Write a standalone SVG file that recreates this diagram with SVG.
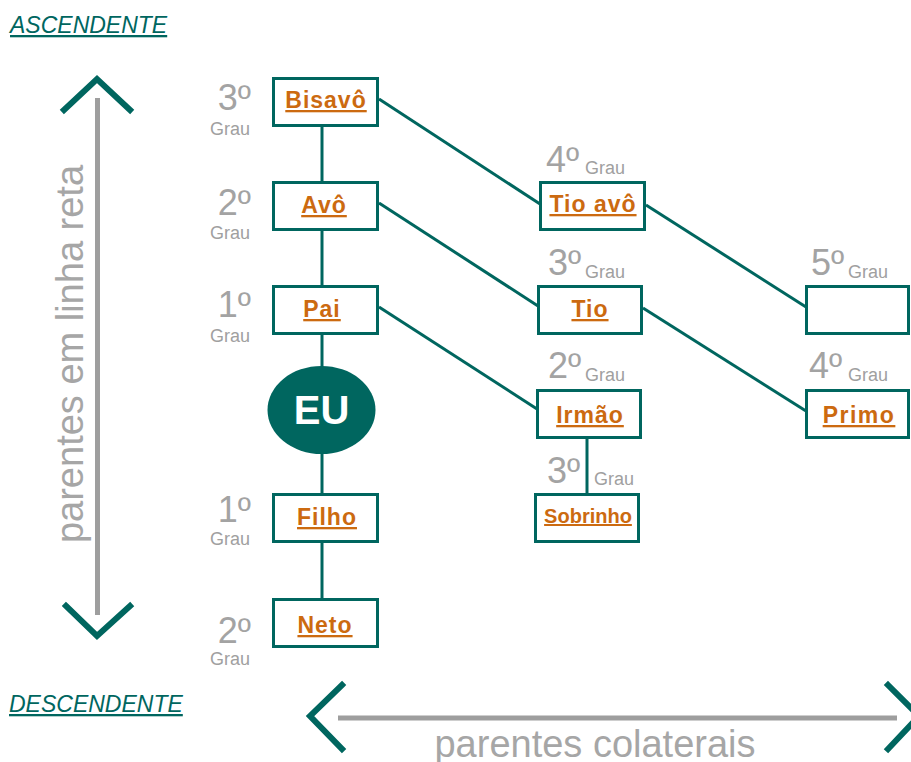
<svg xmlns="http://www.w3.org/2000/svg" width="911" height="762" viewBox="0 0 911 762">
<style>
.box{fill:#fff;stroke:#00665f;stroke-width:3}
.lnk{stroke:#00665f;stroke-width:3;fill:none}
.lbl{font-family:"Liberation Sans",Arial,sans-serif;font-weight:bold;font-size:23px;fill:#cc6a10;text-anchor:middle;text-decoration:underline;letter-spacing:1px}
.deg{font-family:"Liberation Sans",Arial,sans-serif;font-size:36px;fill:#a3a3a3}
.grau{font-family:"Liberation Sans",Arial,sans-serif;font-size:18px;fill:#a0a0a0}
.end{text-anchor:end}
.side{font-family:"Liberation Sans",Arial,sans-serif;font-style:italic;font-size:23px;fill:#00665f;text-decoration:underline}
.big{font-family:"Liberation Sans",Arial,sans-serif;font-size:38px;fill:#a6a6a6;text-anchor:middle}
.gline{stroke:#9e9e9e;stroke-width:5;fill:none}
.chev{stroke:#00665f;stroke-width:6;fill:none;stroke-linecap:square}
</style>
<rect width="911" height="762" fill="#fff"/>

<g id="headers">
<text class="side" x="10" y="33">ASCENDENTE</text>
<text class="side" x="9" y="712">DESCENDENTE</text>
</g>

<g id="axis-vertical">
<line class="gline" x1="97.5" y1="98" x2="97.5" y2="615"/>
<polyline class="chev" points="64,110 97,79 130,110"/>
<polyline class="chev" points="66,606 97,636 130,606"/>
<text class="big" transform="translate(83,354) rotate(-90)">parentes em linha reta</text>
</g>

<g id="axis-horizontal">
<line class="gline" x1="338" y1="718" x2="897" y2="718"/>
<polyline class="chev" points="342,685 310,716 342,749"/>
<polyline class="chev" points="888,685 919,716 888,749"/>
<text class="big" x="595" y="757">parentes colaterais</text>
</g>

<g id="connectors">
<line class="lnk" x1="322" y1="127" x2="322" y2="181"/>
<line class="lnk" x1="322" y1="231" x2="322" y2="285"/>
<line class="lnk" x1="322" y1="334" x2="322" y2="368"/>
<line class="lnk" x1="322" y1="452" x2="322" y2="493"/>
<line class="lnk" x1="322" y1="543" x2="322" y2="598"/>
<line class="lnk" x1="587" y1="438" x2="587" y2="493"/>
<line class="lnk" x1="379" y1="99" x2="540" y2="204"/>
<line class="lnk" x1="379" y1="203" x2="538" y2="306"/>
<line class="lnk" x1="379" y1="307" x2="537" y2="409"/>
<line class="lnk" x1="646" y1="205" x2="806" y2="307"/>
<line class="lnk" x1="643" y1="308" x2="806" y2="411"/>
</g>

<g id="bisavo">
<rect class="box" x="273.5" y="78.5" width="104" height="47"/>
<text class="lbl" x="326" y="108">Bisavô</text>
<text class="deg end" x="251" y="110">3º</text>
<text class="grau end" x="250" y="135">Grau</text>
</g>
<g id="avo">
<rect class="box" x="273.5" y="182.5" width="104" height="47"/>
<text class="lbl" x="324" y="213">Avô</text>
<text class="deg end" x="251" y="215">2º</text>
<text class="grau end" x="250" y="239">Grau</text>
</g>
<g id="pai">
<rect class="box" x="273.5" y="286.5" width="104" height="47"/>
<text class="lbl" x="322" y="317">Pai</text>
<text class="deg end" x="251" y="317">1º</text>
<text class="grau end" x="250" y="342">Grau</text>
</g>
<g id="eu">
<ellipse cx="321.5" cy="410" rx="54" ry="44" fill="#00665f"/>
<text x="321.5" y="424" font-family="Liberation Sans,Arial,sans-serif" font-weight="bold" font-size="40" fill="#fff" text-anchor="middle">EU</text>
</g>
<g id="filho">
<rect class="box" x="273.5" y="494.5" width="104" height="47"/>
<text class="lbl" x="327" y="525">Filho</text>
<text class="deg end" x="251" y="522">1º</text>
<text class="grau end" x="250" y="545">Grau</text>
</g>
<g id="neto">
<rect class="box" x="273.5" y="599.5" width="104" height="47"/>
<text class="lbl" x="325" y="633">Neto</text>
<text class="deg end" x="251" y="643">2º</text>
<text class="grau end" x="250" y="665">Grau</text>
</g>
<g id="tioavo">
<rect class="box" x="540.5" y="182.5" width="104" height="47"/>
<text class="lbl" x="593" y="212">Tio avô</text>
<text class="deg" x="546" y="172">4º</text>
<text class="grau" x="585" y="174">Grau</text>
</g>
<g id="tio">
<rect class="box" x="538.5" y="286.5" width="103" height="47"/>
<text class="lbl" x="590" y="317">Tio</text>
<text class="deg" x="548" y="275">3º</text>
<text class="grau" x="585" y="278">Grau</text>
</g>
<g id="irmao">
<rect class="box" x="537.5" y="390.5" width="103" height="47"/>
<text class="lbl" x="590" y="423">Irmão</text>
<text class="deg" x="548" y="378">2º</text>
<text class="grau" x="585" y="381">Grau</text>
</g>
<g id="sobrinho">
<rect class="box" x="535.5" y="494.5" width="103" height="47"/>
<text class="lbl" x="588" y="523" style="font-size:20px;letter-spacing:0">Sobrinho</text>
<text class="deg" x="547" y="483">3º</text>
<text class="grau" x="594" y="485">Grau</text>
</g>
<g id="tio-avo-filho">
<rect class="box" x="806.5" y="286.5" width="102" height="47"/>
<text class="deg" x="811" y="275">5º</text>
<text class="grau" x="848" y="278">Grau</text>
</g>
<g id="primo">
<rect class="box" x="806.5" y="390.5" width="102" height="47"/>
<text class="lbl" x="859" y="423" style="letter-spacing:1.5px">Primo</text>
<text class="deg" x="809" y="378">4º</text>
<text class="grau" x="848" y="381">Grau</text>
</g>
</svg>
